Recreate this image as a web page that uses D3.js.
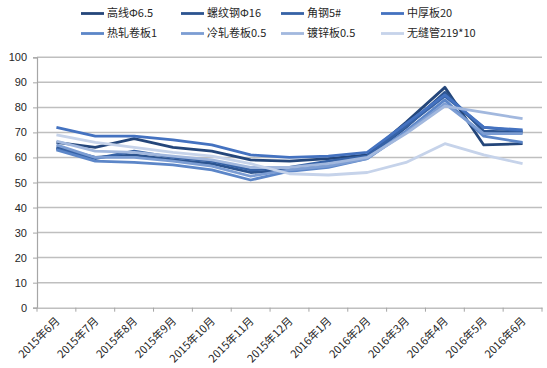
<!DOCTYPE html>
<html>
<head>
<meta charset="utf-8">
<script src="https://cdn.jsdelivr.net/npm/d3@7"></script>
<style>
  body { margin: 0; background: #fff; }
  svg { display: block; }
  text { font-family: "Noto Sans CJK SC", "DejaVu Sans", sans-serif; fill: #262626; }
</style>
</head>
<body>
<div id="chart"></div>
<script>
var width = 547, height = 368;

var months = ["2015年6月", "2015年7月", "2015年8月", "2015年9月", "2015年10月", "2015年11月",
  "2015年12月", "2016年1月", "2016年2月", "2016年3月", "2016年4月", "2016年5月", "2016年6月"];

var names = ["高线Φ6.5", "螺纹钢Φ16", "角钢5#", "中厚板20", "热轧卷板1", "冷轧卷板0.5", "镀锌板0.5", "无缝管219*10"];

var gaoxian   = [66, 64, 67.5, 64, 62.5, 59, 58.5, 59.5, 61, 74, 88, 65, 65.5];
var luowen    = [64, 60, 61, 59, 57.5, 54, 55, 57, 60, 72, 86, 70.5, 70];
var jiaogang  = [63.5, 59.5, 62.5, 60, 58.5, 55, 56, 58.5, 60.5, 72.5, 84.5, 72, 70.5];
var zhonghou  = [72, 68.5, 68.5, 67, 65, 61, 60, 60.5, 62, 73.5, 85, 72, 71];
var rezha     = [63, 58.5, 58, 57, 55, 51, 54.5, 56, 59.5, 70.5, 83, 68.5, 66];
var lengzha   = [65, 60, 60, 58.5, 56.5, 52.5, 55, 56.5, 59.5, 70, 81.5, 69.5, 69.5];
var duxin     = [66.5, 62.5, 62, 60.5, 59, 56, 56, 57.5, 60, 69.5, 80.5, 78, 75.5];
var wufeng    = [69, 66, 64, 62, 60.5, 57.5, 53.5, 53, 54, 58, 65.5, 61, 57.5];

var yTicks = [0, 10, 20, 30, 40, 50, 60, 70, 80, 90, 100];

var colors = ["#24467a", "#2c5490", "#3662a6", "#4472c0", "#5c86c8", "#7c9dd3", "#a2b8de", "#c6d3ea"];

var series = [gaoxian, luowen, jiaogang, zhonghou, rezha, lengzha, duxin, wufeng].map(function (v, i) {
  return { name: names[i], values: v, color: colors[i] };
});

var plot = { left: 37, right: 542, top: 57.3, bottom: 307.7 };

var x = d3.scaleBand().domain(months).range([plot.left, plot.right]);
var y = d3.scaleLinear().domain([0, 100]).range([plot.bottom, plot.top]);

var svg = d3.select("#chart").append("svg")
  .attr("width", width)
  .attr("height", height);

// gridlines
svg.append("g")
  .selectAll("line")
  .data(yTicks.slice(1))
  .enter().append("line")
  .attr("x1", plot.left).attr("x2", plot.right)
  .attr("y1", function (d) { return y(d); })
  .attr("y2", function (d) { return y(d); })
  .attr("stroke", "#bfbfbf")
  .attr("stroke-width", 1.5);

// y axis
var yAxis = svg.append("g")
  .attr("transform", "translate(" + plot.left + ",0)")
  .call(d3.axisLeft(y).tickValues(yTicks).tickSize(4).tickPadding(6));
yAxis.select(".domain").attr("stroke", "#a6a6a6").attr("stroke-width", 1.2);
yAxis.selectAll(".tick line").attr("stroke", "#a6a6a6");
yAxis.selectAll("text").style("font-size", "11px").attr("fill", "#262626")
  .style("font-family", "'Liberation Sans', 'DejaVu Sans', sans-serif");

// x axis
var xAxis = svg.append("g")
  .attr("transform", "translate(0," + plot.bottom + ")")
  .call(d3.axisBottom(x).tickSize(0).tickFormat(""));
xAxis.select(".domain").attr("stroke", "#bfbfbf").attr("stroke-width", 1.5);

svg.append("g")
  .selectAll("line")
  .data(d3.range(months.length + 1))
  .enter().append("line")
  .attr("x1", function (i) { return plot.left + i * x.step(); })
  .attr("x2", function (i) { return plot.left + i * x.step(); })
  .attr("y1", plot.bottom)
  .attr("y2", plot.bottom + 4)
  .attr("stroke", "#a6a6a6");

svg.append("g")
  .selectAll("text")
  .data(months)
  .enter().append("text")
  .attr("transform", function (d) {
    return "translate(" + (x(d) + x.bandwidth() / 2 + 4) + "," + (plot.bottom + 14) + ") rotate(-45)";
  })
  .attr("text-anchor", "end")
  .style("font-size", "11px")
  .text(function (d) { return d; });

// lines
var line = d3.line()
  .x(function (d, i) { return x(months[i]) + x.bandwidth() / 2; })
  .y(function (d) { return y(d); });

svg.append("g")
  .selectAll("path")
  .data(series)
  .enter().append("path")
  .attr("d", function (d) { return line(d.values); })
  .attr("fill", "none")
  .attr("stroke", function (d) { return d.color; })
  .attr("stroke-width", 2.8)
  .attr("stroke-linejoin", "round");

// legend
var legend = svg.append("g")
  .selectAll("g")
  .data(series)
  .enter().append("g")
  .attr("transform", function (d, i) {
    return "translate(" + (81 + (i % 4) * 100) + "," + (13.5 + Math.floor(i / 4) * 20) + ")";
  });

legend.append("line")
  .attr("x1", 0).attr("x2", 23)
  .attr("stroke", function (d) { return d.color; })
  .attr("stroke-width", 2.8);

legend.append("text")
  .attr("x", 26)
  .attr("dy", "0.35em")
  .style("font-size", "11px")
  .text(function (d) { return d.name; });
</script>
</body>
</html>
